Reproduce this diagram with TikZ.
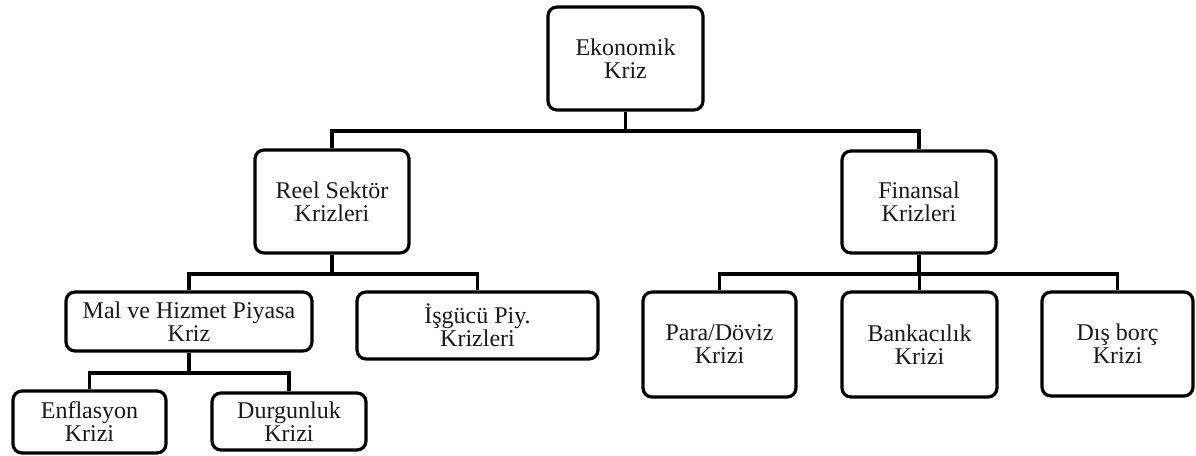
\documentclass[tikz,border=0pt]{standalone}
\usepackage{fontspec}
\setmainfont{Liberation Serif}
\usetikzlibrary{calc,positioning}
\tikzset{
  kutu/.style={
    rectangle,
    rounded corners=9pt,
    draw=black, line width=3.2pt,
    align=center,
    inner sep=0pt,
    font=\fontsize{24}{23}\selectfont,
    text=black!90},
  hat/.style={draw, line width=3.6pt},
}
\begin{document}
\begin{tikzpicture}[x=1pt,y=-1pt]
    \useasboundingbox (0,0) rectangle (1196,455);

    \coordinate (bus1) at (0,131);
    \coordinate (bus2) at (0,274);
    \coordinate (bus3) at (0,373);

    % ust seviye
    \node[kutu, minimum width=155pt, minimum height=103pt] (ekonomik) at (625.5,58.5) {Ekonomik\\Kriz};

    \node[kutu, minimum width=154pt, minimum height=103pt] (reel) at (332,201.5) {Reel Sektör\\Krizleri};
    \node[kutu, minimum width=154pt, minimum height=102pt] (finansal) at (919,202) {Finansal\\Krizleri};

    % reel sektor
    \node[kutu, minimum width=246pt, minimum height=59pt] (mal) at (189,321.5) {Mal ve Hizmet Piyasa\\Kriz};
    \node[kutu, minimum width=241pt, minimum height=67pt] (isgucu) at (477.5,325.5) {İşgücü Piy.\\Krizleri};

    \node[kutu, minimum width=153pt, minimum height=62pt] (enflasyon) at (89.5,422) {Enflasyon\\Krizi};
    \node[kutu, minimum width=154pt, minimum height=57pt] (durgunluk) at (289,421.5) {Durgunluk\\Krizi};

    % finansal
    \node[kutu, minimum width=153pt, minimum height=105pt] (para) at (719.5,344.5) {Para/Döviz\\Krizi};
    \node[kutu, minimum width=155pt, minimum height=105pt] (banka) at (919.5,344.5) {Bankacılık\\Krizi};
    \node[kutu, minimum width=151pt, minimum height=104pt] (disborc) at (1117.5,344) {Dış borç\\Krizi};

    \draw[hat] (ekonomik.south) -- (ekonomik.south |- bus1);
    \draw[hat] (reel.north) |- (finansal.north |- bus1) -- (finansal.north);

    \draw[hat] (reel.south) -- (reel.south |- bus2);
    \draw[hat] (mal.north) |- (isgucu.north |- bus2) -- (isgucu.north);

    \draw[hat] (finansal.south) -- (finansal.south |- bus2);
    \draw[hat] (para.north) |- (disborc.north |- bus2) -- (disborc.north);
    \draw[hat] (banka.north) -- (banka.north |- bus2);

    \draw[hat] (mal.south) -- (mal.south |- bus3);
    \draw[hat] (enflasyon.north) |- (durgunluk.north |- bus3) -- (durgunluk.north);
\end{tikzpicture}
\end{document}
